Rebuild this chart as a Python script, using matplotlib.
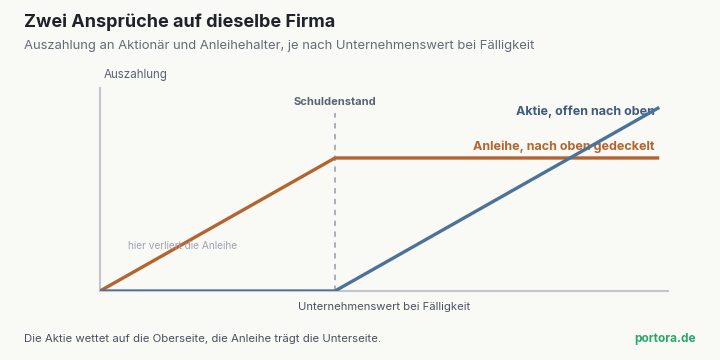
from matplotlib import pyplot as plt
import numpy as np

plt.rcParams['font.family'] = ['Inter', 'DejaVu Sans']

# firm value at maturity and payoffs
firm_value = [0, 50, 119]
bond_payoff = [0, 50, 50]
stock_payoff = [0, 0, 69]
debt_level = 50

bg = '#f9f9f6'
orange = '#b4652f'
blue = '#4d7299'

fig = plt.figure(figsize=(7.2, 3.6), dpi=100, facecolor=bg)
ax = fig.add_axes([100/720, 1 - 291/360, 568/720, 203/360])
ax.set_facecolor(bg)

ax.plot(firm_value, bond_payoff, color=orange, lw=2.4, solid_capstyle='butt', zorder=3)
ax.plot(firm_value, stock_payoff, color=blue, lw=2.4, solid_capstyle='butt', zorder=4)
ax.plot([debt_level, debt_level], [0, 67], color='#a4a9b4', lw=1.3, ls=(0, (3, 3)), zorder=2)

ax.set_xlim(0, 120.85)
ax.set_ylim(0, 76.3)
for s in ['top', 'right']:
    ax.spines[s].set_visible(False)
for s in ['left', 'bottom']:
    ax.spines[s].set_color('#c3c6cd')
    ax.spines[s].set_linewidth(1.5)
ax.set_xticks([])
ax.set_yticks([])

ax.text(debt_level, 71, 'Schuldenstand', ha='center', va='center',
        fontsize=8, fontweight='bold', color='#5a6170')
ax.text(118, 67.5, 'Aktie, offen nach oben', ha='right', va='center',
        fontsize=9, fontweight='bold', color='#3f5b82')
ax.text(118, 54.3, 'Anleihe, nach oben gedeckelt', ha='right', va='center',
        fontsize=9, fontweight='bold', color=orange)
ax.text(6, 16.9, 'hier verliert die Anleihe', ha='left', va='center',
        fontsize=7.3, color='#9ea3ad')

fig.text(104/720, 1 - 75/360, 'Auszahlung', ha='left', va='center',
         fontsize=8.3, color='#5a6170')
fig.text(384/720, 1 - 307/360, 'Unternehmenswert bei Fälligkeit', ha='center', va='center',
         fontsize=8.1, color='#4a5060')

fig.text(24/720, 1 - 22/360, 'Zwei Ansprüche auf dieselbe Firma', ha='left', va='center',
         fontsize=13, fontweight='bold', color='#1f2229')
fig.text(24/720, 1 - 46/360, 'Auszahlung an Aktionär und Anleihehalter, je nach Unternehmenswert bei Fälligkeit',
         ha='left', va='center', fontsize=9.4, color='#646b78')
fig.text(24/720, 1 - 339/360, 'Die Aktie wettet auf die Oberseite, die Anleihe trägt die Unterseite.',
         ha='left', va='center', fontsize=8.2, color='#4a5060')
fig.text(696/720, 1 - 339/360, 'portora.de', ha='right', va='center',
         fontsize=8.5, fontweight='bold', color='#2aa86a')

fig.savefig('out.png', dpi=100, facecolor=bg)
